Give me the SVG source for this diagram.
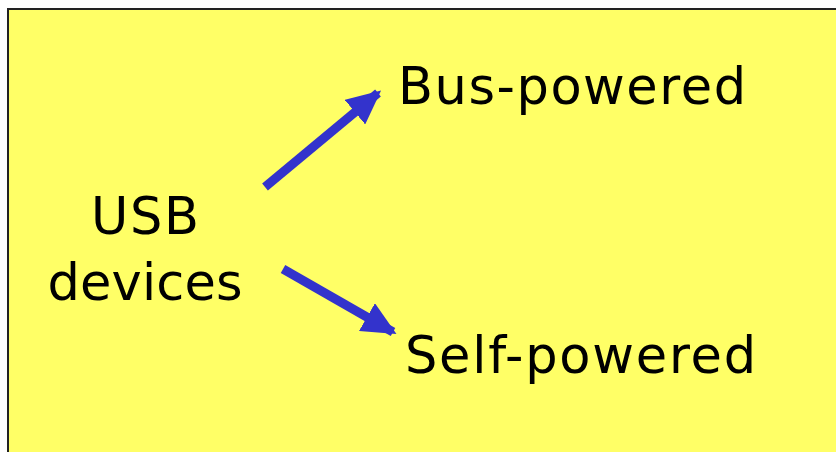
<svg xmlns="http://www.w3.org/2000/svg" width="836" height="452" viewBox="0 0 836 452">
  <style>
    .lbl { font-family: "DejaVu Sans", Verdana, sans-serif; font-size: 51px; fill: #000; }
    .conn { stroke: #3333CC; stroke-width: 9; fill: none; marker-end: url(#head); }
  </style>
  <defs>
    <!-- solid triangular arrowhead shared by both connectors -->
    <marker id="head" markerUnits="userSpaceOnUse" markerWidth="34" markerHeight="32" refX="30" refY="16" orient="auto" viewBox="0 0 34 32">
      <path d="M0,0 L34,16 L0,32 Z" fill="#3333CC"/>
    </marker>
  </defs>
  <rect x="8" y="9" width="840" height="460" fill="#FFFF66" stroke="#222" stroke-width="2"/>
  <g id="usb-devices">
    <text class="lbl" x="145" y="234" text-anchor="middle" textLength="108">USB</text>
    <text class="lbl" x="145" y="300" text-anchor="middle" textLength="195">devices</text>
  </g>
  <g id="bus-powered">
    <text class="lbl" x="398" y="104" textLength="348">Bus-powered</text>
  </g>
  <g id="self-powered">
    <text class="lbl" x="405" y="373" textLength="351">Self-powered</text>
  </g>
  <g id="connectors">
    <line class="conn" x1="265" y1="187" x2="378" y2="93"/>
    <line class="conn" x1="283" y1="269" x2="393" y2="332"/>
  </g>
</svg>
